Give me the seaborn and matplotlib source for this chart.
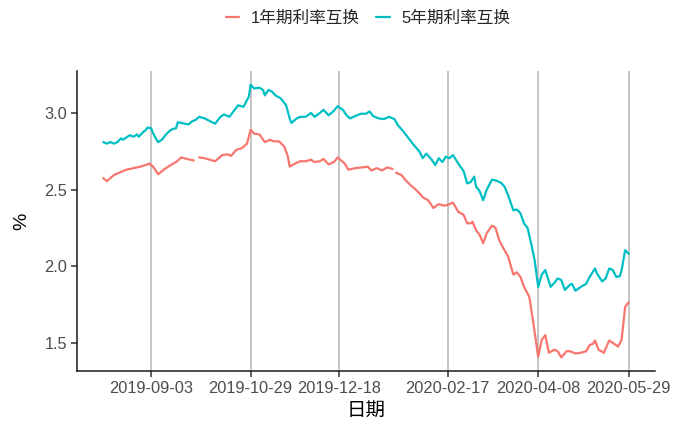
import pandas as pd
import numpy as np
import matplotlib.pyplot as plt
import matplotlib.dates as mdates
from matplotlib.lines import Line2D
import seaborn as sns

# ─── Données ────────────────────────────────────────────────────────────────
label_1y = '1年期利率互换'
label_5y = '5年期利率互换'

dates_1y = [
    '2019-08-07', '2019-08-09', '2019-08-13', '2019-08-17', '2019-08-20', '2019-08-24',
    '2019-08-28', '2019-09-01', '2019-09-02', '2019-09-04', '2019-09-07', '2019-09-10',
    '2019-09-14', '2019-09-17', '2019-09-20', '2019-09-23', '2019-09-27', '2019-09-29',
    '2019-09-30', '2019-10-03', '2019-10-09', '2019-10-13', '2019-10-16', '2019-10-18',
    '2019-10-21', '2019-10-24', '2019-10-27', '2019-10-29', '2019-10-31', '2019-11-03',
    '2019-11-06', '2019-11-09', '2019-11-11', '2019-11-14', '2019-11-17', '2019-11-19',
    '2019-11-20', '2019-11-23', '2019-11-26', '2019-11-29', '2019-12-02', '2019-12-04',
    '2019-12-07', '2019-12-09', '2019-12-12', '2019-12-15', '2019-12-17', '2019-12-21',
    '2019-12-23', '2019-12-27', '2019-12-31', '2020-01-03', '2020-01-05', '2020-01-08',
    '2020-01-11', '2020-01-14', '2020-01-17', '2020-01-18', '2020-01-19', '2020-01-22',
    '2020-01-24', '2020-01-27', '2020-01-30', '2020-02-02', '2020-02-03', '2020-02-06',
    '2020-02-09', '2020-02-12', '2020-02-15', '2020-02-17', '2020-02-20', '2020-02-23',
    '2020-02-26', '2020-02-28', '2020-03-01', '2020-03-02', '2020-03-04', '2020-03-06',
    '2020-03-08', '2020-03-10', '2020-03-13', '2020-03-15', '2020-03-17', '2020-03-20',
    '2020-03-22', '2020-03-25', '2020-03-27', '2020-03-29', '2020-03-31', '2020-04-03',
    '2020-04-05', '2020-04-08', '2020-04-10', '2020-04-12', '2020-04-14', '2020-04-17',
    '2020-04-19', '2020-04-21', '2020-04-24', '2020-04-26', '2020-04-29', '2020-05-02',
    '2020-05-05', '2020-05-07', '2020-05-09', '2020-05-10', '2020-05-12', '2020-05-15',
    '2020-05-18', '2020-05-20', '2020-05-23', '2020-05-25', '2020-05-27', '2020-05-29',
]
rate_1y = [
    2.575, 2.555, 2.595, 2.615, 2.63, 2.64,
    2.65, 2.665, 2.67, 2.65, 2.60, 2.63,
    2.66, 2.68, 2.71, 2.70, 2.69, np.nan,
    2.71, 2.705, 2.685, 2.725, 2.73, 2.72,
    2.76, 2.77, 2.80, 2.89, 2.865, 2.86,
    2.81, 2.825, 2.815, 2.815, 2.78, 2.715,
    2.65, 2.67, 2.685, 2.685, 2.695, 2.68,
    2.685, 2.70, 2.665, 2.68, 2.71, 2.67,
    2.63, 2.64, 2.645, 2.65, 2.625, 2.64,
    2.625, 2.645, 2.635, np.nan, 2.61, 2.595,
    2.565, 2.53, 2.50, 2.465, 2.45, 2.43,
    2.38, 2.405, 2.395, 2.40, 2.415, 2.355,
    2.335, 2.28, 2.28, 2.29, 2.235, 2.205,
    2.15, 2.215, 2.265, 2.25, 2.17, 2.105,
    2.065, 1.945, 1.96, 1.93, 1.865, 1.80,
    1.65, 1.41, 1.52, 1.55, 1.435, 1.455,
    1.445, 1.405, 1.445, 1.445, 1.43, 1.435,
    1.445, 1.485, 1.495, 1.515, 1.455, 1.435,
    1.515, 1.50, 1.475, 1.52, 1.735, 1.765,
]

dates_5y = [
    '2019-08-07', '2019-08-09', '2019-08-11', '2019-08-13', '2019-08-15', '2019-08-17',
    '2019-08-18', '2019-08-20', '2019-08-22', '2019-08-24', '2019-08-26', '2019-08-27',
    '2019-08-29', '2019-08-31', '2019-09-01', '2019-09-03', '2019-09-04', '2019-09-06',
    '2019-09-07', '2019-09-09', '2019-09-11', '2019-09-13', '2019-09-15', '2019-09-17',
    '2019-09-18', '2019-09-20', '2019-09-22', '2019-09-24', '2019-09-26', '2019-09-28',
    '2019-09-30', '2019-10-03', '2019-10-09', '2019-10-12', '2019-10-14', '2019-10-17',
    '2019-10-20', '2019-10-22', '2019-10-25', '2019-10-27', '2019-10-28', '2019-10-29',
    '2019-10-31', '2019-11-03', '2019-11-05', '2019-11-06', '2019-11-08', '2019-11-10',
    '2019-11-12', '2019-11-15', '2019-11-18', '2019-11-20', '2019-11-21', '2019-11-24',
    '2019-11-26', '2019-11-29', '2019-12-02', '2019-12-04', '2019-12-07', '2019-12-09',
    '2019-12-12', '2019-12-15', '2019-12-17', '2019-12-20', '2019-12-22', '2019-12-24',
    '2019-12-27', '2019-12-30', '2020-01-02', '2020-01-04', '2020-01-06', '2020-01-09',
    '2020-01-12', '2020-01-15', '2020-01-18', '2020-01-20', '2020-01-23', '2020-01-26',
    '2020-01-29', '2020-02-01', '2020-02-03', '2020-02-05', '2020-02-08', '2020-02-10',
    '2020-02-12', '2020-02-14', '2020-02-16', '2020-02-18', '2020-02-20', '2020-02-23',
    '2020-02-26', '2020-02-28', '2020-03-01', '2020-03-03', '2020-03-04', '2020-03-06',
    '2020-03-08', '2020-03-10', '2020-03-13', '2020-03-15', '2020-03-18', '2020-03-20',
    '2020-03-22', '2020-03-25', '2020-03-27', '2020-03-29', '2020-03-31', '2020-04-02',
    '2020-04-04', '2020-04-06', '2020-04-08', '2020-04-10', '2020-04-12', '2020-04-15',
    '2020-04-17', '2020-04-19', '2020-04-21', '2020-04-23', '2020-04-26', '2020-04-27',
    '2020-04-29', '2020-05-02', '2020-05-05', '2020-05-07', '2020-05-10', '2020-05-11',
    '2020-05-14', '2020-05-16', '2020-05-18', '2020-05-20', '2020-05-22', '2020-05-24',
    '2020-05-25', '2020-05-27', '2020-05-29',
]
rate_5y = [
    2.81, 2.80, 2.81, 2.80, 2.81, 2.835,
    2.825, 2.84, 2.855, 2.845, 2.86, 2.845,
    2.87, 2.89, 2.905, 2.90, 2.87, 2.825,
    2.81, 2.825, 2.855, 2.88, 2.895, 2.90,
    2.94, 2.935, 2.93, 2.925, 2.945, 2.955,
    2.975, 2.965, 2.93, 2.975, 2.99, 2.975,
    3.02, 3.05, 3.04, 3.085, 3.105, 3.185,
    3.16, 3.165, 3.15, 3.115, 3.15, 3.14,
    3.115, 3.095, 3.05, 2.965, 2.935, 2.965,
    2.975, 2.975, 3.00, 2.975, 3.00, 3.02,
    2.985, 3.015, 3.045, 3.02, 2.985, 2.965,
    2.98, 2.995, 2.995, 3.01, 2.98, 2.965,
    2.96, 2.975, 2.96, 2.92, 2.88, 2.835,
    2.79, 2.75, 2.705, 2.735, 2.695, 2.66,
    2.705, 2.68, 2.715, 2.705, 2.725, 2.67,
    2.62, 2.54, 2.55, 2.585, 2.52, 2.49,
    2.43, 2.50, 2.565, 2.56, 2.545, 2.52,
    2.465, 2.365, 2.37, 2.345, 2.28, 2.25,
    2.15, 2.04, 1.865, 1.945, 1.975, 1.865,
    1.89, 1.92, 1.91, 1.845, 1.88, 1.885,
    1.84, 1.865, 1.885, 1.93, 1.985, 1.955,
    1.90, 1.92, 1.985, 1.975, 1.93, 1.935,
    1.975, 2.105, 2.08,
]

tick_dates = ['2019-09-03', '2019-10-29', '2019-12-18', '2020-02-17', '2020-04-08', '2020-05-29']
y_ticks = [1.5, 2.0, 2.5, 3.0]

COLORS = {label_1y: '#F8766D', label_5y: '#00BFC4'}

# ─── Style ──────────────────────────────────────────────────────────────────
sns.set_theme(style='white')
plt.rcParams['font.family'] = ['Liberation Sans', 'Noto Sans CJK SC']
plt.rcParams['axes.unicode_minus'] = False

# ─── Préparation (NaN -> coupure de ligne via "units") ──────────────────────
df1 = pd.DataFrame({'日期': pd.to_datetime(dates_1y), '利率': rate_1y, '品种': label_1y})
df1['段'] = df1['利率'].isna().cumsum()
df5 = pd.DataFrame({'日期': pd.to_datetime(dates_5y), '利率': rate_5y, '品种': label_5y})
df5['段'] = 0
df = pd.concat([df1, df5], ignore_index=True).dropna()
df['组'] = df['品种'] + '_' + df['段'].astype(str)

# ─── Figure ─────────────────────────────────────────────────────────────────
fig, ax = plt.subplots(figsize=(6.73, 4.28), dpi=100)
fig.subplots_adjust(left=77/673, right=655/673, bottom=1-371/428, top=1-71/428)

ax.grid(axis='x', color='#B5B5B5', linewidth=1.1)
ax.grid(axis='y', visible=False)
ax.set_axisbelow(True)

sns.lineplot(data=df, x='日期', y='利率', hue='品种', units='组', estimator=None,
             hue_order=[label_1y, label_5y], palette=COLORS,
             linewidth=1.6, legend=False, ax=ax)

ax.set_xticks(pd.to_datetime(tick_dates))
ax.xaxis.set_major_formatter(mdates.DateFormatter('%Y-%m-%d'))
ax.set_yticks(y_ticks)
ax.set_yticklabels([f'{v:.1f}' for v in y_ticks])

for s in ['top', 'right']:
    ax.spines[s].set_visible(False)
for s in ['left', 'bottom']:
    ax.spines[s].set_color('#1A1A1A')
    ax.spines[s].set_linewidth(1.1)

ax.tick_params(axis='both', length=4, width=1.1, color='#333333',
               labelcolor='#4D4D4D', labelsize=11.8, pad=3, bottom=True, left=True)
ax.set_xlabel('日期', fontsize=14, color='black', labelpad=5)
ax.set_ylabel('%', fontsize=14, color='black', labelpad=10)

handles = [Line2D([], [], color=COLORS[label_1y], linewidth=1.6),
           Line2D([], [], color=COLORS[label_5y], linewidth=1.6)]
fig.legend(handles, [label_1y, label_5y], loc='center', ncol=2,
           bbox_to_anchor=(368/673, 1-18/428), frameon=False,
           handlelength=0.8, handletextpad=0.7, columnspacing=1.0,
           prop={'size': 12})

plt.savefig('out.png', dpi=100)
plt.close()
